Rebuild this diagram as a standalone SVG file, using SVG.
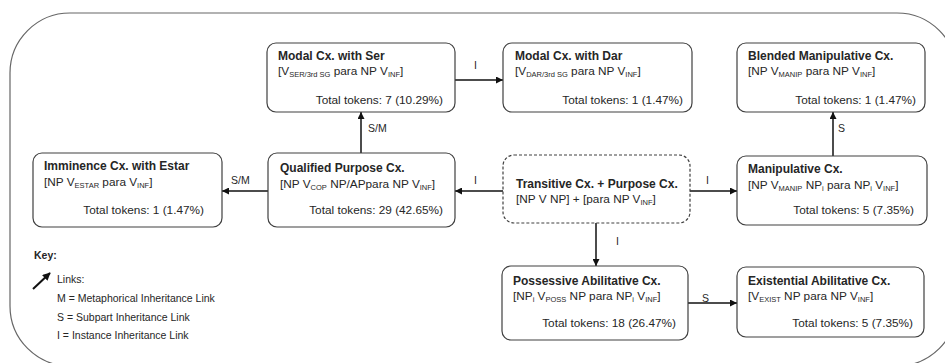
<svg xmlns="http://www.w3.org/2000/svg" width="945" height="363" viewBox="0 0 945 363">
  <defs>
    <marker id="arrow" viewBox="0 0 10 10" refX="10" refY="5" markerWidth="7" markerHeight="7" markerUnits="userSpaceOnUse" orient="auto">
      <path d="M0,0 L10,5 L0,10 z" fill="#111"/>
    </marker>
    <marker id="arrow-key" viewBox="0 0 10 10" refX="9" refY="5" markerWidth="8" markerHeight="8" markerUnits="userSpaceOnUse" orient="auto">
      <path d="M0,0 L10,5 L0,10 z" fill="#111"/>
    </marker>
  </defs>
  <style>
    text { font-family: "Liberation Sans", Arial, sans-serif; fill: #262626; }
    .title { font-size: 12px; font-weight: bold; }
    .body { font-size: 11.8px; }
    .sub { font-size: 7.5px; }
    .tot { font-size: 11.8px; text-anchor: end; }
    .lbl { font-size: 10.5px; }
    .key { font-size: 10.5px; }
    .box { fill: #fff; stroke: #404040; stroke-width: 1.2; }
    .dash { stroke-dasharray: 3 2; }
    .link { stroke: #111; stroke-width: 1.5; fill: none; marker-end: url(#arrow); }
  </style>

  <rect width="945" height="363" fill="#fff"/>
  <!-- outer frame -->
  <rect x="10" y="13" width="947" height="353" rx="60" ry="60" fill="none" stroke="#666" stroke-width="1.2"/>

  <!-- connectors -->
  <g id="connectors">
    <line class="link" x1="455" y1="80" x2="503" y2="80"/>
    <line class="link" x1="361" y1="153" x2="361" y2="112"/>
    <line class="link" x1="268" y1="191" x2="222" y2="191"/>
    <line class="link" x1="503" y1="191" x2="455" y2="191"/>
    <line class="link" x1="690" y1="191" x2="737" y2="191"/>
    <line class="link" x1="833" y1="156" x2="833" y2="112"/>
    <line class="link" x1="596" y1="223" x2="596" y2="266"/>
    <line class="link" x1="688" y1="303" x2="737" y2="303"/>
    <text class="lbl" x="474" y="69">I</text>
    <text class="lbl" x="368" y="132">S/M</text>
    <text class="lbl" x="231" y="184">S/M</text>
    <text class="lbl" x="474" y="184">I</text>
    <text class="lbl" x="706" y="184">I</text>
    <text class="lbl" x="838" y="132">S</text>
    <text class="lbl" x="616" y="245">I</text>
    <text class="lbl" x="702" y="302">S</text>
  </g>

  <g id="modal-ser">
    <rect class="box" x="267" y="43" width="188" height="69" rx="9"/>
    <text class="title" x="278" y="60">Modal Cx. with Ser</text>
    <text class="body" x="278" y="75">[V<tspan class="sub" dy="2">SER/3rd SG</tspan><tspan dy="-2"> para NP V</tspan><tspan class="sub" dy="2">INF</tspan><tspan dy="-2">]</tspan></text>
    <text class="tot" x="443" y="104">Total tokens: 7 (10.29%)</text>
  </g>

  <g id="modal-dar">
    <rect class="box" x="503" y="43" width="189" height="69" rx="9"/>
    <text class="title" x="515" y="60">Modal Cx. with Dar</text>
    <text class="body" x="515" y="75">[V<tspan class="sub" dy="2">DAR/3rd SG</tspan><tspan dy="-2"> para NP V</tspan><tspan class="sub" dy="2">INF</tspan><tspan dy="-2">]</tspan></text>
    <text class="tot" x="683" y="104">Total tokens: 1 (1.47%)</text>
  </g>

  <g id="blended-manipulative">
    <rect class="box" x="737" y="43" width="188" height="69" rx="9"/>
    <text class="title" x="748" y="60">Blended Manipulative Cx.</text>
    <text class="body" x="748" y="75">[NP V<tspan class="sub" dy="2">MANIP</tspan><tspan dy="-2"> para NP V</tspan><tspan class="sub" dy="2">INF</tspan><tspan dy="-2">]</tspan></text>
    <text class="tot" x="916" y="104">Total tokens: 1 (1.47%)</text>
  </g>

  <g id="imminence">
    <rect class="box" x="33" y="153" width="189" height="74" rx="9"/>
    <text class="title" x="44" y="170">Imminence Cx. with Estar</text>
    <text class="body" x="44" y="186">[NP V<tspan class="sub" dy="2">ESTAR</tspan><tspan dy="-2"> para V</tspan><tspan class="sub" dy="2">INF</tspan><tspan dy="-2">]</tspan></text>
    <text class="tot" x="204" y="214">Total tokens: 1 (1.47%)</text>
  </g>

  <g id="qualified-purpose">
    <rect class="box" x="268" y="153" width="187" height="74" rx="9"/>
    <text class="title" x="280" y="172">Qualified Purpose Cx.</text>
    <text class="body" x="280" y="188">[NP V<tspan class="sub" dy="2">COP</tspan><tspan dy="-2"> NP/APpara NP V</tspan><tspan class="sub" dy="2">INF</tspan><tspan dy="-2">]</tspan></text>
    <text class="tot" x="443" y="214">Total tokens: 29 (42.65%)</text>
  </g>

  <g id="transitive-purpose">
    <rect class="box dash" x="503" y="155" width="187" height="68" rx="11"/>
    <text class="title" x="516" y="188">Transitive Cx. + Purpose Cx.</text>
    <text class="body" x="516" y="203">[NP V NP] + [para NP V<tspan class="sub" dy="2">INF</tspan><tspan dy="-2">]</tspan></text>
  </g>

  <g id="manipulative">
    <rect class="box" x="737" y="156" width="190" height="69" rx="9"/>
    <text class="title" x="748" y="173">Manipulative Cx.</text>
    <text class="body" x="748" y="189">[NP V<tspan class="sub" dy="2">MANIP</tspan><tspan dy="-2"> NP</tspan><tspan class="sub" dy="2">i</tspan><tspan dy="-2"> para NP</tspan><tspan class="sub" dy="2">i</tspan><tspan dy="-2"> V</tspan><tspan class="sub" dy="2">INF</tspan><tspan dy="-2">]</tspan></text>
    <text class="tot" x="914" y="214">Total tokens: 5 (7.35%)</text>
  </g>

  <g id="possessive-abilitative">
    <rect class="box" x="502" y="266" width="186" height="74" rx="9"/>
    <text class="title" x="513" y="285">Possessive Abilitative Cx.</text>
    <text class="body" x="513" y="300">[NP<tspan class="sub" dy="2">i</tspan><tspan dy="-2"> V</tspan><tspan class="sub" dy="2">POSS</tspan><tspan dy="-2"> NP para NP</tspan><tspan class="sub" dy="2">i</tspan><tspan dy="-2"> V</tspan><tspan class="sub" dy="2">INF</tspan><tspan dy="-2">]</tspan></text>
    <text class="tot" x="676" y="327">Total tokens: 18 (26.47%)</text>
  </g>

  <g id="existential-abilitative">
    <rect class="box" x="737" y="267" width="187" height="70" rx="9"/>
    <text class="title" x="748" y="285">Existential Abilitative Cx.</text>
    <text class="body" x="748" y="300">[V<tspan class="sub" dy="2">EXIST</tspan><tspan dy="-2"> NP para NP V</tspan><tspan class="sub" dy="2">INF</tspan><tspan dy="-2">]</tspan></text>
    <text class="tot" x="913" y="327">Total tokens: 5 (7.35%)</text>
  </g>

  <!-- legend -->
  <g id="key">
    <text class="key" x="34" y="259" font-weight="bold">Key:</text>
    <line x1="33" y1="289" x2="50" y2="273" stroke="#111" stroke-width="2" marker-end="url(#arrow-key)"/>
    <text class="key" x="57" y="283">Links:</text>
    <text class="key" x="57" y="302">M = Metaphorical Inheritance Link</text>
    <text class="key" x="57" y="321">S = Subpart Inheritance Link</text>
    <text class="key" x="57" y="339">I = Instance Inheritance  Link</text>
  </g>
</svg>
